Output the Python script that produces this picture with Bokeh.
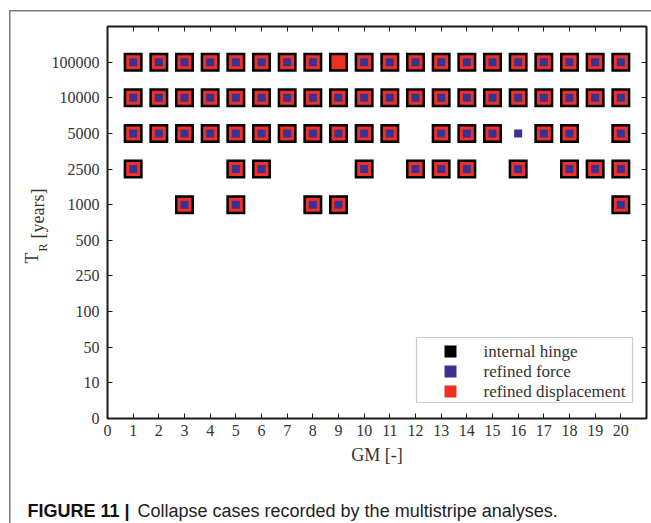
import math
from bokeh.plotting import figure
from bokeh.models import (Range1d, FixedTicker, LinearAxis, Label, BoxAnnotation,
                          ColumnDataSource)
from bokeh.embed import file_html
from bokeh.resources import INLINE

# ---------------- data ----------------
TR_LEVELS = ["0", "10", "50", "100", "250", "500", "1000", "2500", "5000", "10000", "100000"]
GM_TICKS = list(range(0, 21))

hinge_100000 = [1, 2, 3, 4, 5, 6, 7, 8, 9, 10, 11, 12, 13, 14, 15, 16, 17, 18, 19, 20]
hinge_10000 = [1, 2, 3, 4, 5, 6, 7, 8, 9, 10, 11, 12, 13, 14, 15, 16, 17, 18, 19, 20]
hinge_5000 = [1, 2, 3, 4, 5, 6, 7, 8, 9, 10, 11, 13, 14, 15, 17, 18, 20]
hinge_2500 = [1, 5, 6, 10, 12, 13, 14, 16, 18, 19, 20]
hinge_1000 = [3, 5, 8, 9, 20]

disp_100000 = [1, 2, 3, 4, 5, 6, 7, 8, 9, 10, 11, 12, 13, 14, 15, 16, 17, 18, 19, 20]
disp_10000 = [1, 2, 3, 4, 5, 6, 7, 8, 9, 10, 11, 12, 13, 14, 15, 16, 17, 18, 19, 20]
disp_5000 = [1, 2, 3, 4, 5, 6, 7, 8, 9, 10, 11, 13, 14, 15, 17, 18, 20]
disp_2500 = [1, 5, 6, 10, 12, 13, 14, 16, 18, 19, 20]
disp_1000 = [3, 5, 8, 9, 20]

force_100000 = [1, 2, 3, 4, 5, 6, 7, 8, 10, 11, 12, 13, 14, 15, 16, 17, 18, 19, 20]
force_10000 = [1, 2, 3, 4, 5, 6, 7, 8, 9, 10, 11, 12, 13, 14, 15, 16, 17, 18, 19, 20]
force_5000 = [1, 2, 3, 4, 5, 6, 7, 8, 9, 10, 11, 13, 14, 15, 16, 17, 18, 20]
force_2500 = [1, 5, 6, 10, 12, 13, 14, 16, 18, 19, 20]
force_1000 = [3, 5, 8, 9, 20]

SERIES = {
    "internal hinge": {"100000": hinge_100000, "10000": hinge_10000, "5000": hinge_5000,
                       "2500": hinge_2500, "1000": hinge_1000},
    "refined displacement": {"100000": disp_100000, "10000": disp_10000, "5000": disp_5000,
                             "2500": disp_2500, "1000": disp_1000},
    "refined force": {"100000": force_100000, "10000": force_10000, "5000": force_5000,
                      "2500": force_2500, "1000": force_1000},
}
COLORS = {"internal hinge": "#000000", "refined displacement": "#EE3124", "refined force": "#3B3190"}
SIZES = {"internal hinge": 19, "refined displacement": 14, "refined force": 8}
LEGEND_ORDER = ["internal hinge", "refined force", "refined displacement"]


def to_source(rows):
    xs, ys = [], []
    for tr, gms in rows.items():
        for g in gms:
            xs.append(g)
            ys.append(TR_LEVELS.index(tr))
    return ColumnDataSource(dict(x=xs, y=ys))


W, H = 651, 523
FRAME_CSS = ("linear-gradient(#7a7a7a,#7a7a7a) 9px 10px / 1.5px 100% no-repeat, "
             "linear-gradient(#7a7a7a,#7a7a7a) 9px 10px / 100% 1.5px no-repeat, white")
p = figure(width=W, height=H, output_backend="svg", toolbar_location=None,
           x_range=Range1d(0, 21), y_range=Range1d(0, 11),
           min_border_left=107, min_border_right=5, min_border_top=26, min_border_bottom=105,
           styles={"background": FRAME_CSS})
p.grid.visible = False
p.outline_line_color = "#1a1a1a"
p.outline_line_width = 2
p.background_fill_color = "white"
p.border_fill_color = None

SERIF = "Liberation Serif"
TXT = "#333333"

for ax in (p.xaxis[0], p.yaxis[0]):
    ax.axis_line_color = None
    ax.major_tick_in = 5
    ax.major_tick_out = 0
    ax.minor_tick_line_color = None
    ax.major_tick_line_color = "#1a1a1a"
    ax.major_label_text_font = SERIF
    ax.major_label_text_font_size = "16px"
    ax.major_label_text_color = TXT

p.xaxis[0].ticker = FixedTicker(ticks=GM_TICKS)
p.xaxis[0].major_label_standoff = 6
p.xaxis[0].axis_label = "GM [-]"
p.xaxis[0].axis_label_text_font = SERIF
p.xaxis[0].axis_label_text_font_size = "18px"
p.xaxis[0].axis_label_text_font_style = "normal"
p.xaxis[0].axis_label_text_color = TXT
p.xaxis[0].axis_label_standoff = 6

p.yaxis[0].ticker = FixedTicker(ticks=list(range(len(TR_LEVELS))))
p.yaxis[0].major_label_overrides = {i: t for i, t in enumerate(TR_LEVELS)}
p.yaxis[0].major_label_standoff = 8

top_ax = LinearAxis(ticker=FixedTicker(ticks=GM_TICKS))
right_ax = LinearAxis(ticker=FixedTicker(ticks=list(range(len(TR_LEVELS)))))
for ax in (top_ax, right_ax):
    ax.axis_line_color = None
    ax.major_tick_in = 5
    ax.major_tick_out = 0
    ax.minor_tick_line_color = None
    ax.major_tick_line_color = "#1a1a1a"
    ax.major_label_text_font_size = "1px"
    ax.major_label_text_color = None
    ax.major_label_standoff = 0
p.add_layout(top_ax, "above")
p.add_layout(right_ax, "right")

for name in ["internal hinge", "refined displacement", "refined force"]:
    p.scatter("x", "y", source=to_source(SERIES[name]), marker="square",
              size=SIZES[name], fill_color=COLORS[name], line_color=None)

# y-axis label  T_R [years]  (side panels, canvas units)
p.add_layout(Label(x=31, y=263, x_units="canvas", y_units="canvas", text="T",
                   angle=math.pi / 2, text_font=SERIF, text_font_size="18px",
                   text_color=TXT, text_baseline="alphabetic", text_align="left"), "left")
p.add_layout(Label(x=42, y=251, x_units="canvas", y_units="canvas", text="R",
                   angle=math.pi / 2, text_font=SERIF, text_font_size="12px",
                   text_color=TXT, text_baseline="alphabetic", text_align="left"), "above")
p.add_layout(Label(x=37, y=238, x_units="canvas", y_units="canvas", text="[years]",
                   angle=math.pi / 2, text_font=SERIF, text_font_size="18px",
                   text_color=TXT, text_baseline="alphabetic", text_align="left"), "left")

# legend
p.add_layout(BoxAnnotation(left=416, right=632, top=337, bottom=402,
                           left_units="canvas", right_units="canvas",
                           top_units="canvas", bottom_units="canvas",
                           fill_color="white", fill_alpha=1.0,
                           line_color="#555555", line_width=1.2))
for i, name in enumerate(LEGEND_ORDER):
    cy = 351 + 20 * i
    p.add_layout(BoxAnnotation(left=444, right=456, top=cy - 6, bottom=cy + 6,
                               left_units="canvas", right_units="canvas",
                               top_units="canvas", bottom_units="canvas",
                               fill_color=COLORS[name], fill_alpha=1.0, line_color=None))
    p.add_layout(Label(x=483, y=cy, x_units="canvas", y_units="canvas", text=name,
                       text_font=SERIF, text_font_size="17px", text_color=TXT,
                       text_baseline="middle", text_align="left"))

# caption (side panel, canvas units)
p.add_layout(Label(x=27, y=510, x_units="canvas", y_units="canvas", text="FIGURE 11 |",
                   text_font="Liberation Sans", text_font_size="18px",
                   text_font_style="bold", text_color="#111111", text_baseline="middle"),
             "below")
p.add_layout(Label(x=137, y=510, x_units="canvas", y_units="canvas",
                   text="Collapse cases recorded by the multistripe analyses.",
                   text_font="Liberation Sans", text_font_size="18px",
                   text_color="#222222", text_baseline="middle"), "below")

open("out.html", "w").write(file_html(p, INLINE))
